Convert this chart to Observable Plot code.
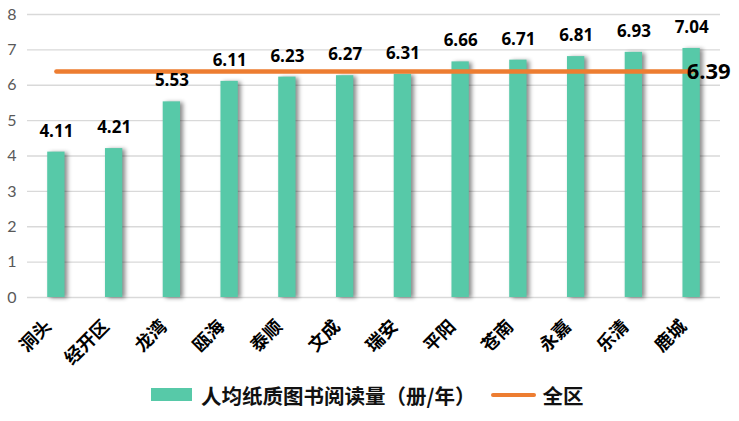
<!DOCTYPE html>
<html>
<head>
<meta charset="utf-8">
<script src="https://cdn.jsdelivr.net/npm/d3@7"></script>
<script src="https://cdn.jsdelivr.net/npm/@observablehq/plot@0.6"></script>
<style>
  html, body { margin: 0; padding: 0; background: #fff; }
  #legend { height: 49px; display: flex; align-items: center; padding-left: 151px; box-sizing: border-box;
    font-family: "Noto Sans CJK SC", sans-serif; font-weight: bold; font-size: 20.5px; color: #111; }
  .sw { display: inline-block; width: 41px; height: 13px; background: #57C9A8; margin-right: 9px; }
  .ln { display: inline-block; width: 45px; height: 4px; background: #ED7D31; margin-left: 16px; margin-right: 6px; border-radius: 2px; }
  .bars rect { filter: drop-shadow(3px 1px 2px rgba(0,0,0,0.45)); }
</style>
</head>
<body>
<div id="chart"></div>
<div id="legend"><span class="sw"></span><span>人均纸质图书阅读量（册/年）</span><span class="ln"></span><span>全区</span></div>
<script>
const categories = ["洞头","经开区","龙湾","瓯海","泰顺","文成","瑞安","平阳","苍南","永嘉","乐清","鹿城"];
const values = [4.11,4.21,5.53,6.11,6.23,6.27,6.31,6.66,6.71,6.81,6.93,7.04];
const overall = 6.39;
const yTicks = [0,1,2,3,4,5,6,7,8];

const data = categories.map((c, i) => ({name: c, value: values[i]}));
const numFont = "'Open Sans', Lato, sans-serif";

const chart = Plot.plot({
  width: 739,
  height: 370,
  marginTop: 14,
  marginBottom: 73,
  marginLeft: 27,
  marginRight: 19,
  x: {domain: categories, paddingInner: 0.7, paddingOuter: 0.35, round: false, axis: null},
  y: {domain: [0, 8], axis: null},
  marks: [
    Plot.gridY(yTicks, {stroke: "#d9d9d9", strokeOpacity: 1, strokeWidth: 1.3}),
    Plot.axisY(yTicks, {tickSize: 0, tickPadding: 11, fontSize: 16, fill: "#595959", fontFamily: "Lato, sans-serif", label: null}),
    Plot.barY(data, {x: "name", y: "value", fill: "#57C9A8", className: "bars"}),
    Plot.line(categories, {x: d => d, y: () => overall, stroke: "#ED7D31", strokeWidth: 4.5}),
    Plot.text(data, {x: "name", y: "value", text: d => d.value.toFixed(2), dy: -21, fontSize: 17, fontWeight: "bold", fill: "#000", fontFamily: numFont}),
    Plot.text([overall], {x: () => categories[categories.length - 1], y: d => d, text: d => d.toFixed(2), textAnchor: "start", dx: -5, fontSize: 22, fontWeight: "bold", fill: "#000", fontFamily: numFont}),
    Plot.text(categories, {x: d => d, text: d => d, frameAnchor: "bottom", rotate: -45, textAnchor: "end", dx: -4, dy: 30, fontSize: 18, fontWeight: "bold", fill: "#000", fontFamily: "'Noto Sans CJK SC', sans-serif"})
  ]
});
document.getElementById("chart").appendChild(chart);
</script>
</body>
</html>
